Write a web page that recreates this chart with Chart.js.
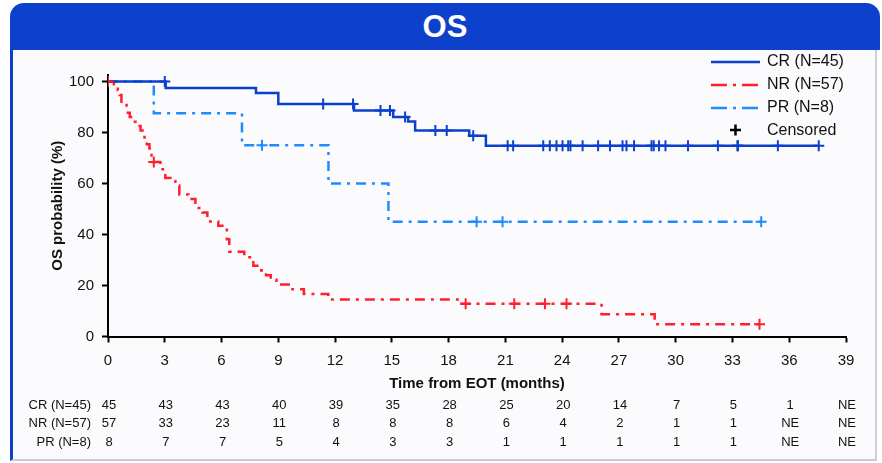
<!DOCTYPE html>
<html>
<head>
<meta charset="utf-8">
<script src="https://cdn.jsdelivr.net/npm/chart.js@4/dist/chart.umd.min.js"></script>
<style>
  html, body { margin:0; padding:0; background:#fff; }
  body { width:882px; height:463px; position:relative; overflow:hidden; font-family:"Liberation Sans", Arial, sans-serif; }
  .titlebar { position:absolute; left:10px; top:3px; width:870px; height:47px; background:#0d41cc;
    border-radius:14px 14px 0 0; color:#fff; font-weight:bold; font-size:31px; line-height:47px; text-align:center; }
  .frame { position:absolute; left:10px; top:50px; width:862px; height:409px; background:#fbfbfd;
    border-left:3px solid #0d41cc; border-right:2px solid #c9cfe0; border-bottom:2px solid #c9ccd6; }
  #km { position:absolute; left:0; top:0; }
</style>
</head>
<body>
<div class="titlebar">OS</div>
<div class="frame"></div>
<canvas id="km" width="882" height="463"></canvas>
<script>
// Kaplan-Meier OS by response
const xTicks = [0,3,6,9,12,15,18,21,24,27,30,33,36,39];
const yTicks = [0,20,40,60,80,100];

// step points: time (months) and survival (%) after each step
const crTime = [0, 3.05, 7.82, 9.0, 13.0, 15.07, 15.86, 16.23, 19.09, 19.97, 37.56];
const crSurv = [100, 97.4, 95.4, 91.1, 88.6, 86.0, 84.3, 80.7, 78.7, 74.8, 74.8];
const crCensor = [3.0, 11.37, 12.95, 14.4, 14.9, 15.7, 17.3, 17.9, 19.3, 21.12, 21.41, 23.0, 23.35, 23.7,
  24.02, 24.32, 24.44, 25.08, 25.9, 26.53, 27.19, 27.4, 27.8, 28.72, 28.84, 29.12, 29.46, 30.65, 32.23,
  33.26, 33.29, 35.4, 37.56];

const nrTime = [0, 0.31, 0.52, 0.62, 0.71, 0.98, 1.15, 1.29, 1.55, 1.72, 1.93, 2.05, 2.19, 2.30, 2.36, 2.77,
  3.03, 3.3, 3.56, 3.77, 4.25, 4.62, 4.99, 5.25, 5.83, 6.28, 6.41, 7.2, 7.68, 8.1, 8.35, 8.6, 8.9, 9.75,
  10.35, 11.64, 18.6, 26.08, 28.89, 34.43];
const nrSurv = [100, 98.2, 96.5, 94.7, 91.2, 87.7, 86.0, 84.2, 82.5, 80.7, 77.2, 75.4, 73.7, 70.2, 68.4, 65.6,
  62.1, 61.0, 59.2, 55.7, 53.9, 50.4, 48.6, 45.1, 43.4, 38.1, 33.2, 31.1, 27.7, 25.9, 24.0, 22.2, 20.4, 18.5,
  16.7, 14.5, 12.8, 8.7, 4.8, 4.8];
const nrCensor = [0, 2.42, 18.9, 21.47, 23.09, 24.23, 34.43];

const prTime = [0, 2.42, 7.08, 11.65, 14.82, 34.52];
const prSurv = [100, 87.5, 75, 60, 45, 45];
const prCensor = [8.14, 19.48, 20.85, 34.52];

// numbers at risk
const riskLabels = ['CR (N=45)', 'NR (N=57)', 'PR (N=8)'];
const crRisk = [45,43,43,40,39,35,28,25,20,14,7,5,1,'NE'];
const nrRisk = [57,33,23,11,8,8,8,6,4,2,1,1,'NE','NE'];
const prRisk = [8,7,7,5,4,3,3,1,1,1,1,1,'NE','NE'];

const CR_COL = '#0b3fcf', NR_COL = '#ff1f2d', PR_COL = '#1e8cff';
const FONT = '"Liberation Sans", Arial, sans-serif';
const DASHDOT = [10,6,3,6];

function steps(t, s){ return t.map((v,i)=>({x:v, y:s[i]})); }
function survAt(t, s, time){
  let v = s[0];
  for(let i=0;i<t.length;i++){ if(t[i] <= time) v = s[i]; }
  return v;
}
function censorPts(t, s, c){ return c.map(v=>({x:v, y:survAt(t, s, v)})); }

function curve(label, t, s, color, dash, order){
  return {type:'line', label, data:steps(t,s), stepped:true, borderColor:color, borderWidth:2.5,
    borderDash:dash, pointRadius:0, fill:false, order};
}
function marks(t, s, c, color, order){
  return {type:'scatter', data:censorPts(t,s,c), pointStyle:'cross', pointRadius:5.5, borderColor:color,
    backgroundColor:color, pointBorderWidth:2, borderWidth:2, order};
}

// legend + at-risk table
const extras = {
  id:'extras',
  afterDraw(chart){
    const ctx = chart.ctx, xs = chart.scales.x;
    ctx.save();
    // legend
    const rows = [['CR (N=45)', CR_COL, []], ['NR (N=57)', NR_COL, [16,6,3,6]], ['PR (N=8)', PR_COL, [16,6,3,6]]];
    ctx.font = '16px ' + FONT;
    ctx.textBaseline = 'middle';
    rows.forEach((r,i)=>{
      const y = 62 + i*23;
      ctx.strokeStyle = r[1]; ctx.lineWidth = 2.5; ctx.setLineDash(r[2]);
      ctx.beginPath(); ctx.moveTo(711, y); ctx.lineTo(760, y); ctx.stroke();
      ctx.setLineDash([]);
      ctx.fillStyle = '#111'; ctx.textAlign = 'left';
      ctx.fillText(r[0], 767, y);
    });
    ctx.strokeStyle = '#000'; ctx.lineWidth = 2.5;
    ctx.beginPath(); ctx.moveTo(730, 130); ctx.lineTo(741, 130); ctx.moveTo(735.5, 124.5); ctx.lineTo(735.5, 135.5); ctx.stroke();
    ctx.fillStyle = '#111'; ctx.fillText('Censored', 767, 131);

    // numbers at risk
    ctx.font = '13px ' + FONT;
    [crRisk, nrRisk, prRisk].forEach((row,i)=>{
      const y = 405 + i*18.8;
      ctx.textAlign = 'right';
      ctx.fillText(riskLabels[i], 91, y);
      ctx.textAlign = 'center';
      row.forEach((v,j)=> ctx.fillText(String(v), xs.getPixelForValue(xTicks[j]) + 1, y));
    });
    ctx.restore();
  }
};

new Chart(document.getElementById('km'), {
  data:{ datasets:[
    marks(nrTime, nrSurv, nrCensor, NR_COL, 0),
    marks(crTime, crSurv, crCensor, CR_COL, 1),
    marks(prTime, prSurv, prCensor, PR_COL, 2),
    curve('CR (N=45)', crTime, crSurv, CR_COL, [], 3),
    curve('NR (N=57)', nrTime, nrSurv, NR_COL, DASHDOT, 4),
    curve('PR (N=8)', prTime, prSurv, PR_COL, DASHDOT, 5)
  ]},
  options:{
    responsive:false, animation:false, devicePixelRatio:1,
    layout:{ padding:{left:0, top:75, right:36, bottom:70} },
    plugins:{ legend:{display:false}, tooltip:{enabled:false} },
    scales:{
      x:{ type:'linear', min:0, max:39,
        afterBuildTicks:s=>{ s.ticks = xTicks.map(v=>({value:v})); },
        afterFit:s=>{ s.height = 56.5; },
        ticks:{ color:'#111', font:{family:FONT, size:15}, padding:9, maxRotation:0 },
        grid:{ drawOnChartArea:false, drawTicks:true, tickLength:6, tickWidth:2, tickColor:'#000' },
        border:{ display:true, color:'#000', width:2 },
        title:{ display:true, text:'Time from EOT (months)', color:'#111', font:{family:FONT, size:15, weight:'bold'}, padding:{top:0,bottom:0} }
      },
      y:{ type:'linear', min:0, max:102.5,
        afterBuildTicks:s=>{ s.ticks = yTicks.map(v=>({value:v})); },
        afterFit:s=>{ s.width = 108; },
        ticks:{ color:'#111', font:{family:FONT, size:15}, padding:8 },
        grid:{ drawOnChartArea:false, drawTicks:true, tickLength:6, tickWidth:2, tickColor:'#000' },
        border:{ display:true, color:'#000', width:2 },
        title:{ display:true, text:'OS probability (%)', color:'#111', font:{family:FONT, size:15, weight:'bold'}, padding:{top:49,bottom:0} }
      }
    }
  },
  plugins:[extras]
});
</script>
</body>
</html>
